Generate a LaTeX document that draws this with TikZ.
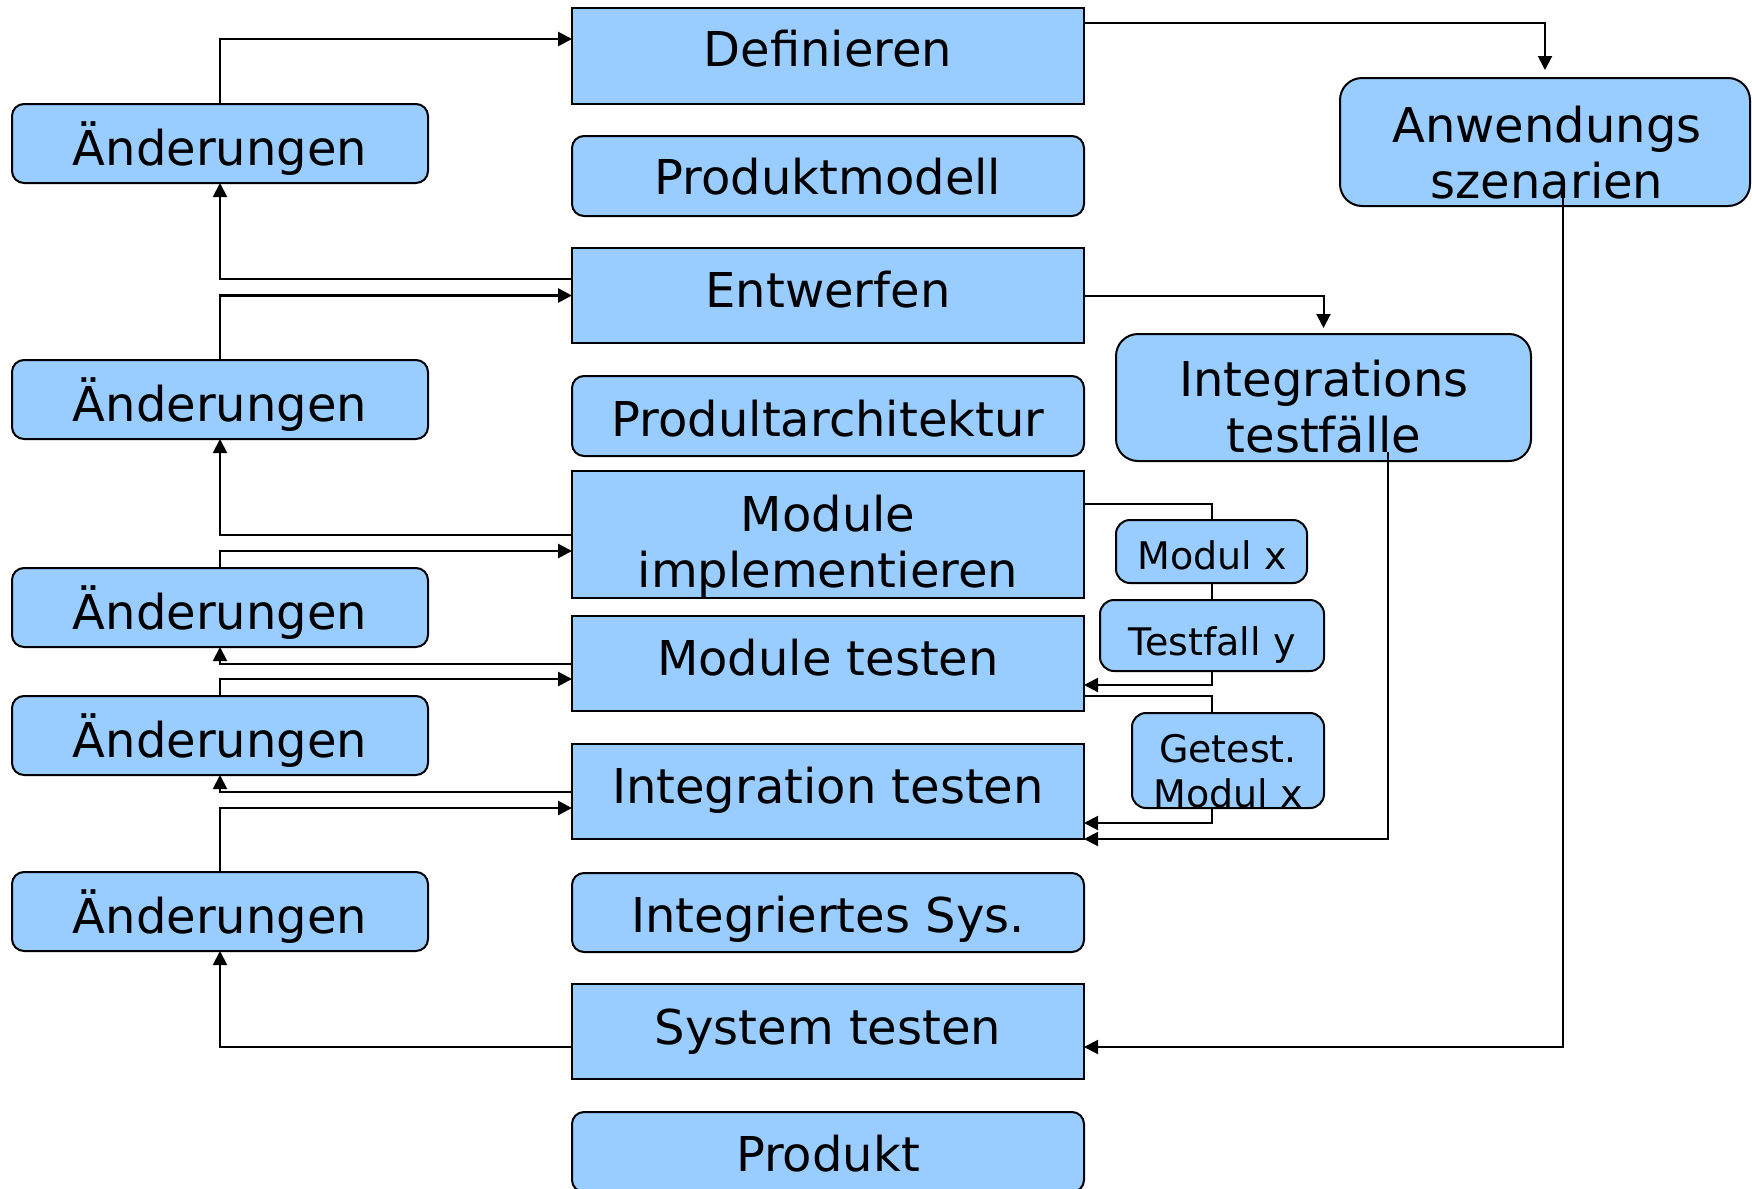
\documentclass[tikz,border=0pt]{standalone}
\usepackage{fontspec}
\setmainfont{DejaVu Sans}
\usetikzlibrary{arrows.meta,calc}
\definecolor{boxblue}{HTML}{99CCFF}
\begin{document}
\begin{tikzpicture}[x=0.5pt,y=-0.5pt,
  every node/.style={inner sep=0pt, outer sep=0pt},
  sq/.style={draw=black, line width=1pt, fill=boxblue},
  rd/.style={sq, rounded corners=6pt},
  rdbig/.style={sq, rounded corners=11pt},
  rdsmall/.style={sq, rounded corners=7pt},
  mainbox/.style={minimum width=256pt},
  chgbox/.style={rd, minimum width=208pt, minimum height=39.5pt},
  big/.style={font=\fontsize{24}{28}\selectfont, anchor=base, align=center},
  small/.style={font=\fontsize{19}{22.5}\selectfont, anchor=base, align=center},
  back/.style={line width=1pt, -{Triangle[length=7pt,width=7pt]}},
  fwd/.style={line width=1.4pt, -{Triangle[length=7pt,width=7pt]}},
  plain/.style={line width=1pt},
]
\useasboundingbox (0,0) rectangle (1752,1189);

% ---- central column ----
\node[sq, mainbox, minimum height=48pt]   (def)  at (828,56)    {};
\node[rd, mainbox, minimum height=40pt]   (pm)   at (828,176)   {};
\node[sq, mainbox, minimum height=47.5pt] (entw) at (828,295.5) {};
\node[rd, mainbox, minimum height=40pt]   (pa)   at (828,416)   {};
\node[sq, mainbox, minimum height=63.5pt] (modimp) at (828,534.5) {};
\node[sq, mainbox, minimum height=47.5pt] (modtest) at (828,663.5) {};
\node[sq, mainbox, minimum height=47.5pt] (inttest) at (828,791.5) {};
\node[rd, mainbox, minimum height=39.5pt] (isys) at (828,912.5) {};
\node[sq, mainbox, minimum height=47.5pt] (systest) at (828,1031.5) {};
\node[rd, mainbox, minimum height=40pt]   (prod) at (828,1152)  {};

% labels are placed by the baseline of their last line
\node[big] (def-t)  at (828,66)  {Definieren};
\node[big] (pm-t)   at (828,194) {Produktmodell};
\node[big] (entw-t) at (828,307) {Entwerfen};
\node[big] (pa-t)   at (828,436) {Produltarchitektur};
\node[big] (modimp-t) at (828,587) {Module\\implementieren};
\node[big] (modtest-t) at (828,675) {Module testen};
\node[big] (inttest-t) at (828,803) {Integration testen};
\node[big] (isys-t) at (828,932) {Integriertes Sys.};
\node[big] (systest-t) at (828,1044) {System testen};
\node[big] (prod-t) at (828,1171) {Produkt};

% ---- change requests on the left ----
\node[chgbox] (a1) at (220,143.5) {};
\node[chgbox] (a2) at (220,399.5) {};
\node[chgbox] (a3) at (220,607.5) {};
\node[chgbox] (a4) at (220,735.5) {};
\node[chgbox] (a5) at (220,911.5) {};
\node[big] (a1-t) at (220,165) {Änderungen};
\node[big] (a2-t) at (220,421) {Änderungen};
\node[big] (a3-t) at (220,629) {Änderungen};
\node[big] (a4-t) at (220,757) {Änderungen};
\node[big] (a5-t) at (220,933) {Änderungen};

% ---- test artefacts on the right ----
\node[rdbig, minimum width=205pt, minimum height=64pt] (anw) at (1545,142) {};
\node[rdbig, minimum width=207.5pt, minimum height=63.5pt] (itf) at (1323.5,397.5) {};
\node[rdsmall, minimum width=95.5pt, minimum height=31.5pt] (modx) at (1211.5,551.5) {};
\node[rdsmall, minimum width=112pt, minimum height=35.5pt] (tfy) at (1212,635.5) {};
\node[rdsmall, minimum width=96pt, minimum height=47.5pt] (gmx) at (1228,760.5) {};

\node[big] (anw-t) at (1547,198) {Anwendungs\\szenarien};
\node[big] (itf-t) at (1324,452) {Integrations\\testfälle};
\node[small] (modx-t) at (1212,569) {Modul x};
\node[small] (tfy-t) at (1212,655) {Testfall y};
\node[small] (gmx-t) at (1228,807) {Getest.\\Modul x};

\coordinate (anwOut) at (1563,198);
\coordinate (itfOut) at (1388,452);

% ---- forward flow on the right ----
\draw[back, shorten >=4pt] ([yshift=-7.5pt]def.north east) -| (anw.north);
\draw[back] (anwOut) |- ([yshift=-7.75pt]systest.east);
\draw[back, shorten >=3pt] (entw.east) -| (itf.north);
\draw[back] (itfOut) |- (inttest.south east);

\draw[plain] ([yshift=-16.5pt]modimp.north east) -| (modx.north);
\draw[plain] (modx.south) -- (modx.south |- tfy.north);
\draw[back] (tfy.south -| modx.south) |- ([yshift=-10.75pt]modtest.east);
\draw[plain] ([yshift=-16.25pt]modtest.east) -| (gmx.north -| modx.south);
\draw[back] (gmx.south -| modx.south) |- ([yshift=-15.75pt]inttest.east);

% ---- change loops on the left ----
\draw[fwd] (a1.north) |- ([yshift=8.5pt]def.west);
\draw[back] ([yshift=8.25pt]entw.west) -| (a1.south);
\draw[fwd] (a2.north) |- (entw.west);
\draw[back] (modimp.west) -| (a2.south);
\draw[fwd] (a3.north) |- ([yshift=-8.25pt]modimp.west);
\draw[back] (modtest.west) -| (a3.south);
\draw[fwd] (a4.north) |- ([yshift=-7.75pt]modtest.west);
\draw[back] (inttest.west) -| (a4.south);
\draw[fwd] (a5.north) |- ([yshift=-8.25pt]inttest.west);
\draw[back] ([yshift=-7.75pt]systest.west) -| (a5.south);
\end{tikzpicture}
\end{document}
